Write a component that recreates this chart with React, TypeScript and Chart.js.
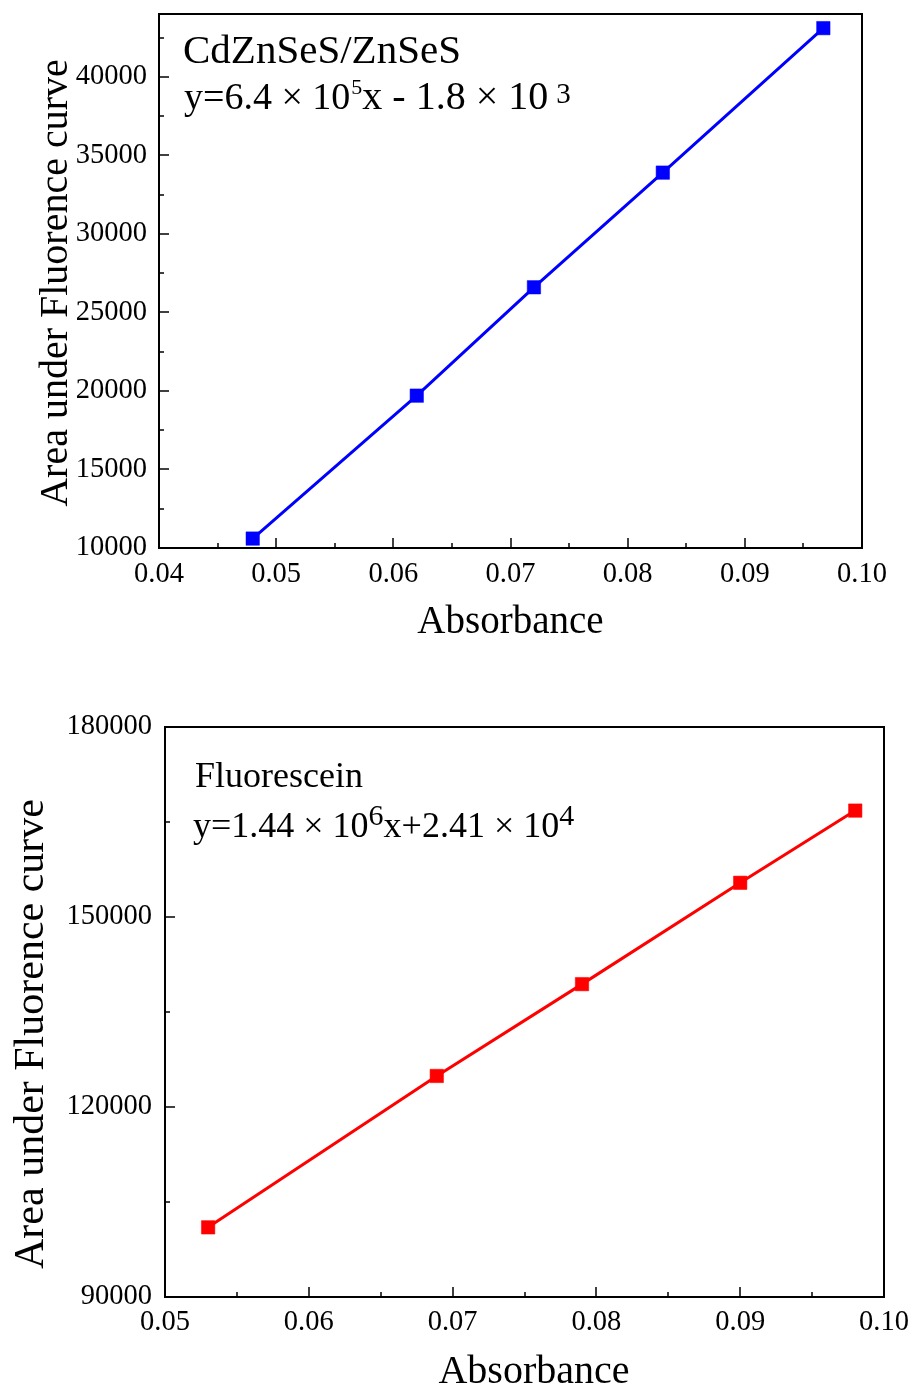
import React, { useEffect, useRef } from 'react';
import { Chart, registerables } from 'chart.js';

Chart.register(...registerables);

const SERIF = '"Liberation Serif", "Times New Roman", Times, serif';

// ---- Data: top panel (CdZnSeS/ZnSeS) ----
const qdAbsorbance = [0.048, 0.062, 0.072, 0.083, 0.0967];
const qdArea = [10600, 19700, 26600, 33900, 43100];
const qdXTicks = [0.04, 0.05, 0.06, 0.07, 0.08, 0.09, 0.1];
const qdYTicks = [10000, 15000, 20000, 25000, 30000, 35000, 40000];

// ---- Data: bottom panel (Fluorescein) ----
const flAbsorbance = [0.053, 0.0689, 0.079, 0.09, 0.098];
const flArea = [101000, 124900, 139400, 155400, 166800];
const flXTicks = [0.05, 0.06, 0.07, 0.08, 0.09, 0.1];
const flYTicks = [90000, 120000, 150000, 180000];

// ---- Texts ----
const xTitleText = 'Absorbance';
const yTitleText = 'Area under Fluorence curve';
const qdName = 'CdZnSeS/ZnSeS';
const qdEquation = ['y=6.4 × 10', '5', 'x - 1.8 × 10', '3'];
const flName = 'Fluorescein';
const flEquation = ['y=1.44 × 10', '6', 'x+2.41 × 10', '4'];

type Piece = { text: string; size: number; dx?: number; gap?: number; dy: number };

interface Panel {
  top: number;
  height: number;
  xs: number[];
  ys: number[];
  color: string;
  xMin: number;
  xMax: number;
  yMin: number;
  yMax: number;
  xTicks: number[];
  yTicks: number[];
  yAxisWidth: number;
  xAxisHeight: number;
  padTop: number;
  padRight: number;
  xTickPad: number;
  yTickPad: number;
  xTitle: { size: number; dx: number; below: number };
  yTitle: { size: number; left: number; dy: number };
  labels: Piece[];
}

const panels: Panel[] = [
  {
    top: 0,
    height: 690,
    xs: qdAbsorbance,
    ys: qdArea,
    color: '#0000FF',
    xMin: 0.04,
    xMax: 0.1,
    yMin: 10000,
    yMax: 44000,
    xTicks: qdXTicks,
    yTicks: qdYTicks,
    yAxisWidth: 159,
    xAxisHeight: 142,
    padTop: 14,
    padRight: 52,
    xTickPad: 9,
    yTickPad: 12,
    xTitle: { size: 39, dx: 0, below: 85 },
    yTitle: { size: 40, left: 92, dy: 2 },
    labels: [
      { text: qdName, size: 41, dx: 24, dy: 49 },
      { text: qdEquation[0], size: 38, dx: 25, dy: 95 },
      { text: qdEquation[1], size: 22, gap: 1, dy: 80 },
      { text: qdEquation[2], size: 40, gap: 0, dy: 95 },
      { text: qdEquation[3], size: 29, gap: 8, dy: 89 },
    ],
  },
  {
    top: 690,
    height: 700,
    xs: flAbsorbance,
    ys: flArea,
    color: '#FF0000',
    xMin: 0.05,
    xMax: 0.1,
    yMin: 90000,
    yMax: 180000,
    xTicks: flXTicks,
    yTicks: flYTicks,
    yAxisWidth: 165,
    xAxisHeight: 93,
    padTop: 37,
    padRight: 30,
    xTickPad: 8,
    yTickPad: 13,
    xTitle: { size: 40, dx: 9.5, below: 86 },
    yTitle: { size: 42, left: 122, dy: 22 },
    labels: [
      { text: flName, size: 36, dx: 30, dy: 60 },
      { text: flEquation[0], size: 36, dx: 28, dy: 110 },
      { text: flEquation[1], size: 30, dy: 98 },
      { text: flEquation[2], size: 36, dy: 110 },
      { text: flEquation[3], size: 30, dy: 98 },
    ],
  },
];

function decorPlugin(p: Panel) {
  return {
    id: 'decor',
    afterDraw(chart: any) {
      const { ctx, chartArea: a, scales } = chart;
      const sx = scales.x;
      const sy = scales.y;
      ctx.save();
      // frame
      ctx.strokeStyle = '#000';
      ctx.lineWidth = 2;
      ctx.strokeRect(a.left, a.top, a.right - a.left, a.bottom - a.top);

      // inward ticks (major + minor halfway)
      ctx.lineWidth = 1.5;
      const majorLen = 10;
      const minorLen = 5;
      const xStep = p.xTicks[1] - p.xTicks[0];
      const yStep = p.yTicks[1] - p.yTicks[0];
      const xTickVals: [number, number][] = [];
      p.xTicks.forEach((v) => {
        xTickVals.push([v, majorLen]);
        if (v + xStep / 2 <= p.xMax + 1e-9) xTickVals.push([v + xStep / 2, minorLen]);
      });
      const yTickVals: [number, number][] = [];
      p.yTicks.forEach((v) => {
        yTickVals.push([v, majorLen]);
        if (v + yStep / 2 <= p.yMax + 1e-9) yTickVals.push([v + yStep / 2, minorLen]);
      });
      xTickVals.forEach(([v, len]) => {
        const px = Math.round(sx.getPixelForValue(v));
        ctx.beginPath();
        ctx.moveTo(px, a.bottom);
        ctx.lineTo(px, a.bottom - len);
        ctx.stroke();
      });
      yTickVals.forEach(([v, len]) => {
        const py = Math.round(sy.getPixelForValue(v));
        ctx.beginPath();
        ctx.moveTo(a.left, py);
        ctx.lineTo(a.left + len, py);
        ctx.stroke();
      });

      ctx.fillStyle = '#000';
      // axis titles
      ctx.textBaseline = 'alphabetic';
      ctx.textAlign = 'center';
      ctx.font = `${p.xTitle.size}px ${SERIF}`;
      ctx.fillText(xTitleText, (a.left + a.right) / 2 + p.xTitle.dx, a.bottom + p.xTitle.below);
      ctx.save();
      ctx.translate(a.left - p.yTitle.left, (a.top + a.bottom) / 2 + p.yTitle.dy);
      ctx.rotate(-Math.PI / 2);
      ctx.font = `${p.yTitle.size}px ${SERIF}`;
      ctx.fillText(yTitleText, 0, 0);
      ctx.restore();

      // in-plot labels
      ctx.textAlign = 'left';
      let cursor = a.left;
      p.labels.forEach((piece) => {
        ctx.font = `${piece.size}px ${SERIF}`;
        const x = piece.dx !== undefined ? a.left + piece.dx : cursor + (piece.gap || 0);
        ctx.fillText(piece.text, x, a.top + piece.dy);
        cursor = x + ctx.measureText(piece.text).width;
      });
      ctx.restore();
    },
  };
}

function PanelChart({ p }: { p: Panel }) {
  const ref = useRef<HTMLCanvasElement | null>(null);
  useEffect(() => {
    if (!ref.current) return;
    const tickFont = { family: SERIF, size: 28.5 };
    const chart = new Chart(ref.current, {
      type: 'line',
      data: {
        datasets: [
          {
            data: p.xs.map((x, i) => ({ x, y: p.ys[i] })),
            borderColor: p.color,
            backgroundColor: p.color,
            borderWidth: 3,
            tension: 0,
            pointStyle: 'rect',
            pointRadius: 9.5,
            pointHoverRadius: 9.5,
            pointBackgroundColor: p.color,
            pointBorderColor: p.color,
            pointBorderWidth: 0.5,
          },
        ],
      },
      options: {
        animation: false,
        responsive: false,
        devicePixelRatio: 1,
        layout: { padding: { left: 0, right: p.padRight, top: p.padTop, bottom: 0 } },
        plugins: { legend: { display: false }, tooltip: { enabled: false } },
        events: [],
        scales: {
          x: {
            type: 'linear',
            min: p.xMin,
            max: p.xMax,
            grid: { display: false, drawTicks: false },
            border: { display: false },
            afterBuildTicks: (scale: any) => {
              scale.ticks = p.xTicks.map((value) => ({ value }));
            },
            afterFit: (scale: any) => {
              scale.height = p.xAxisHeight;
              scale.paddingLeft = 0;
              scale.paddingRight = 0;
            },
            ticks: {
              autoSkip: false,
              maxRotation: 0,
              color: '#000',
              font: tickFont,
              padding: p.xTickPad,
              callback: (v: any) => Number(v).toFixed(2),
            },
          },
          y: {
            type: 'linear',
            min: p.yMin,
            max: p.yMax,
            grid: { display: false, drawTicks: false },
            border: { display: false },
            afterBuildTicks: (scale: any) => {
              scale.ticks = p.yTicks.map((value) => ({ value }));
            },
            afterFit: (scale: any) => {
              scale.width = p.yAxisWidth;
              scale.paddingTop = 0;
              scale.paddingBottom = 0;
            },
            ticks: {
              autoSkip: false,
              color: '#000',
              font: tickFont,
              padding: p.yTickPad,
              callback: (v: any) => String(v),
            },
          },
        },
      } as any,
      plugins: [decorPlugin(p)],
    });
    return () => chart.destroy();
  }, [p]);
  return (
    <canvas
      ref={ref}
      width={914}
      height={p.height}
      style={{ position: 'absolute', left: 0, top: p.top, width: 914, height: p.height, display: 'block' }}
    />
  );
}

export default function App() {
  return (
    <div style={{ position: 'absolute', left: 0, top: 0, width: 914, height: 1390, background: '#fff', overflow: 'hidden' }}>
      {panels.map((p, i) => (
        <PanelChart key={i} p={p} />
      ))}
    </div>
  );
}
